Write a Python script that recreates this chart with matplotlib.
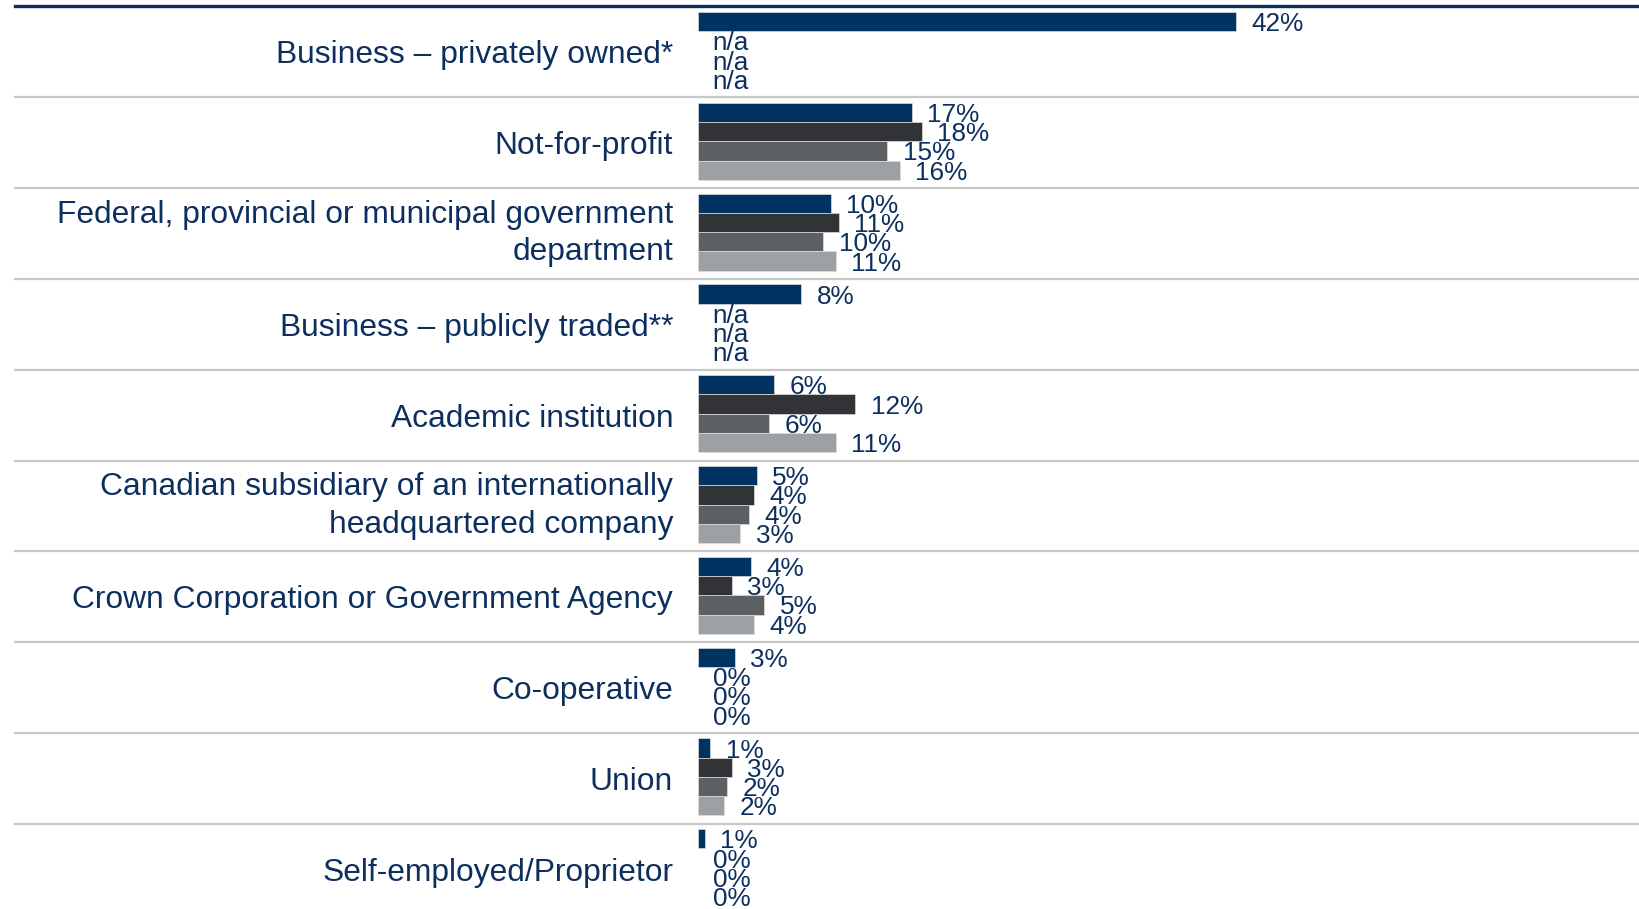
import numpy as np
import matplotlib
matplotlib.use('Agg')
import matplotlib.pyplot as plt
from matplotlib import transforms
from matplotlib.lines import Line2D

plt.rcParams['font.family'] = ['Liberation Sans', 'DejaVu Sans']

# categories, top to bottom
categories = [
    'Business – privately owned*',
    'Not-for-profit',
    'Federal, provincial or municipal government\ndepartment',
    'Business – publicly traded**',
    'Academic institution',
    'Canadian subsidiary of an internationally\nheadquartered company',
    'Crown Corporation or Government Agency',
    'Co-operative',
    'Union',
    'Self-employed/Proprietor',
]

# share of respondents (%), nan = n/a
series_1 = [42.0, 16.7, 10.4, 8.1, 6.0, 4.6, 4.2, 2.9, 1.0, 0.55]
series_2 = [np.nan, 17.5, 11.0, np.nan, 12.3, 4.4, 2.7, 0.0, 2.7, 0.0]
series_3 = [np.nan, 14.8, 9.8, np.nan, 5.6, 4.0, 5.2, 0.0, 2.3, 0.0]
series_4 = [np.nan, 15.8, 10.8, np.nan, 10.8, 3.35, 4.4, 0.0, 2.1, 0.0]

series = [series_1, series_2, series_3, series_4]
colors = ['#003362', '#323337', '#5d6063', '#9ea1a3']
text_color = '#0d2f5e'

W, H, DPI = 1639, 909, 100
fig = plt.figure(figsize=(W / DPI, H / DPI), dpi=DPI)
ax = fig.add_axes([697.5 / W, -5.5 / H, 1 - 697.5 / W, 908 / H])

n = len(categories)
y = np.arange(n)
bar_h = 0.212

for j, (vals, col) in enumerate(zip(series, colors)):
    pos = y + (j - 1.5) * bar_h - 0.015
    vals = np.array(vals, dtype=float)
    lengths = np.nan_to_num(vals)
    ax.barh(pos, lengths, height=bar_h, color=col,
            edgecolor='#dcdcdc', linewidth=np.where(lengths > 0, 0.5, 0))
    for p, v in zip(pos, vals):
        label = 'n/a' if np.isnan(v) else f'{int(v + 0.5)}%'
        x = 0 if np.isnan(v) else v
        ax.annotate(label, (x, p), xytext=(11, 0), textcoords='offset points',
                    va='center_baseline', ha='left', fontsize=18.8,
                    color=text_color)

ax.set_xlim(0, (W - 697.5) / 12.83)
ax.set_ylim(n - 0.5, -0.5)
ax.set_yticks(y)
ax.set_yticklabels(categories, fontsize=22.85, color=text_color, linespacing=1.32)
for t in ax.get_yticklabels():
    if '\n' in t.get_text():
        t.set_va('center')
ax.tick_params(axis='y', length=0, pad=17.5)
ax.set_xticks([])
for s in ax.spines.values():
    s.set_visible(False)

# separators between categories, running past the labels
trans = transforms.blended_transform_factory(fig.transFigure, ax.transData)
for b in np.arange(0.5, n - 1):
    fig.add_artist(Line2D([15 / W, 1], [b, b], transform=trans,
                          color='#c8c8c8', linewidth=1.6))
fig.add_artist(Line2D([15 / W, 1], [-0.5, -0.5], transform=trans,
                      color='#0d2f5e', linewidth=2.4))

fig.savefig('out.png', dpi=DPI)
